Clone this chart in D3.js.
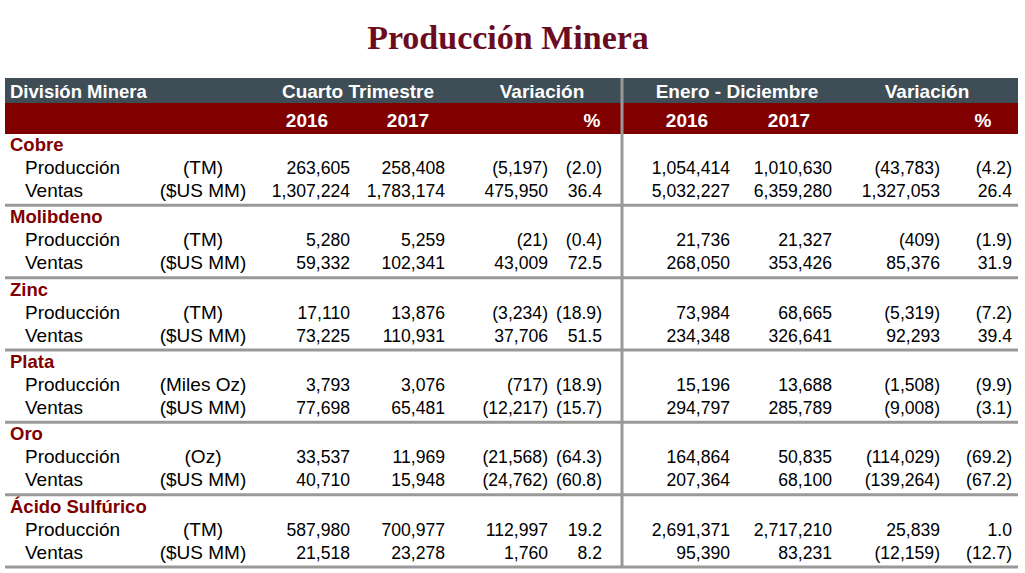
<!DOCTYPE html><html><head><meta charset="utf-8"><script src="https://cdn.jsdelivr.net/npm/d3@7"></script>
<style>body{margin:0;background:#fff}</style></head><body><svg id="c" width="1025" height="573"></svg>
<script>
const groups=["Cobre","Molibdeno","Zinc","Plata","Oro","Ácido Sulfúrico"];
const units=[["(TM)","($US MM)"],["(TM)","($US MM)"],["(TM)","($US MM)"],["(Miles Oz)","($US MM)"],["(Oz)","($US MM)"],["(TM)","($US MM)"]];
const produccion=[
["263,605","258,408","(5,197)","(2.0)","1,054,414","1,010,630","(43,783)","(4.2)"],
["5,280","5,259","(21)","(0.4)","21,736","21,327","(409)","(1.9)"],
["17,110","13,876","(3,234)","(18.9)","73,984","68,665","(5,319)","(7.2)"],
["3,793","3,076","(717)","(18.9)","15,196","13,688","(1,508)","(9.9)"],
["33,537","11,969","(21,568)","(64.3)","164,864","50,835","(114,029)","(69.2)"],
["587,980","700,977","112,997","19.2","2,691,371","2,717,210","25,839","1.0"]];
const ventas=[
["1,307,224","1,783,174","475,950","36.4","5,032,227","6,359,280","1,327,053","26.4"],
["59,332","102,341","43,009","72.5","268,050","353,426","85,376","31.9"],
["73,225","110,931","37,706","51.5","234,348","326,641","92,293","39.4"],
["77,698","65,481","(12,217)","(15.7)","294,797","285,789","(9,008)","(3.1)"],
["40,710","15,948","(24,762)","(60.8)","207,364","68,100","(139,264)","(67.2)"],
["21,518","23,278","1,760","8.2","95,390","83,231","(12,159)","(12.7)"]];
const header1=[["División Minera",10,"start"],["Cuarto Trimestre",358,"middle"],["Variación",542,"middle"],["Enero - Diciembre",737,"middle"],["Variación",927,"middle"]];
const header2=[["2016",307],["2017",408],["%",592],["2016",687],["2017",789],["%",983]];
const colX=[350,445,548,602,730,832,940,1012];
const svg=d3.select("#c");
const F="Liberation Sans, Arial, sans-serif";
svg.append("text").attr("x",508).attr("y",49).attr("text-anchor","middle").attr("font-family","Liberation Serif, Times New Roman, serif").attr("font-weight","bold").attr("font-size",34).attr("fill","#6b0d1e").text("Producción Minera");
svg.append("rect").attr("x",5).attr("y",78).attr("width",1013).attr("height",25).attr("fill","#3e4d56");
svg.append("rect").attr("x",5).attr("y",103).attr("width",1013).attr("height",31).attr("fill","#800000");
header1.forEach(h=>svg.append("text").attr("x",h[1]).attr("y",98).attr("text-anchor",h[2]).attr("font-family",F).attr("font-weight","bold").attr("font-size",h[0]==="División Minera"?18.5:19).attr("fill","#fff").text(h[0]));
header2.forEach(h=>svg.append("text").attr("x",h[1]).attr("y",127).attr("text-anchor","middle").attr("font-family",F).attr("font-weight","bold").attr("font-size",19).attr("fill","#fff").text(h[0]));
const y=d3.scaleLinear().domain([0,6]).range([134,568]);
groups.forEach((g,i)=>{
  const y0=y(i);
  svg.append("text").attr("x",10).attr("y",y0+17).attr("font-family",F).attr("font-weight","bold").attr("font-size",18.5).attr("fill","#800000").text(g);
  [["Producción",produccion[i],units[i][0]],["Ventas",ventas[i],units[i][1]]].forEach((r,k)=>{
    const yy=y0+40+k*23;
    svg.append("text").attr("x",25).attr("y",yy).attr("font-family",F).attr("font-size",19).attr("fill","#000").text(r[0]);
    svg.append("text").attr("x",203).attr("y",yy).attr("text-anchor","middle").attr("font-family",F).attr("font-size",19).attr("fill","#000").text(r[2]);
    r[1].forEach((v,j)=>svg.append("text").attr("x",colX[j]).attr("y",yy).attr("text-anchor","end").attr("font-family",F).attr("font-size",17.6).attr("fill","#000").text(v));
  });
  svg.append("line").attr("x1",5).attr("x2",1018).attr("y1",y(i+1)-1).attr("y2",y(i+1)-1).attr("stroke","#999").attr("stroke-width",3);
});
svg.append("line").attr("x1",622).attr("x2",622).attr("y1",78).attr("y2",568).attr("stroke","#999").attr("stroke-width",3);
</script></body></html>
